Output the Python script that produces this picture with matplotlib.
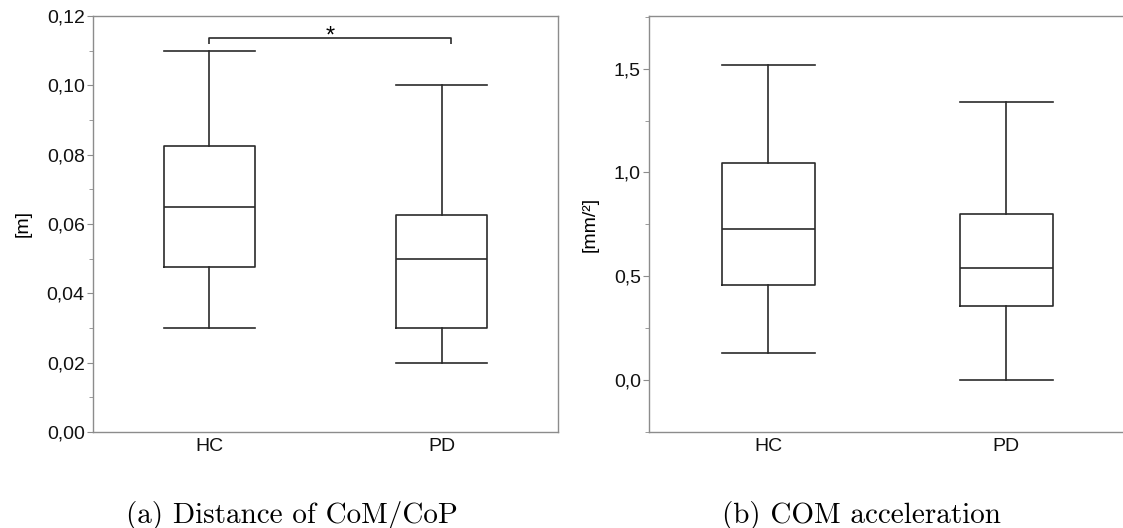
import matplotlib
matplotlib.use('Agg')
import matplotlib.pyplot as plt
from matplotlib.ticker import FixedLocator, FuncFormatter, MultipleLocator

groups = ['HC', 'PD']

# distance of CoM/CoP [m]
dist_low = [0.030, 0.020]
dist_q1 = [0.0475, 0.030]
dist_med = [0.065, 0.050]
dist_q3 = [0.0825, 0.0625]
dist_high = [0.110, 0.100]

# COM acceleration [mm/s^2]
acc_low = [0.13, 0.00]
acc_q1 = [0.46, 0.356]
acc_med = [0.73, 0.54]
acc_q3 = [1.048, 0.80]
acc_high = [1.52, 1.34]

captions = ['(a) Distance of CoM/CoP', '(b) COM acceleration']
ylabels = ['[m]', '[mm/\u00b2]']

LINE = '#2b2b2b'
SPINE = '#8c8c8c'


def box_stats(low, q1, med, q3, high):
    stats = []
    for i, name in enumerate(groups):
        stats.append({'label': name, 'whislo': low[i], 'q1': q1[i],
                      'med': med[i], 'q3': q3[i], 'whishi': high[i],
                      'fliers': []})
    return stats


def comma(decimals):
    return FuncFormatter(lambda v, pos: ('%.*f' % (decimals, v)).replace('.', ','))


def draw_boxes(ax, stats):
    line = dict(color=LINE, linewidth=1.2)
    ax.bxp(stats, positions=[1, 2], widths=0.39, showfliers=False,
           boxprops=line, whiskerprops=line, capprops=line,
           medianprops=line, capwidths=0.39)
    ax.set_xlim(0.5, 2.5)
    for side in ['left', 'right', 'top', 'bottom']:
        ax.spines[side].set_color(SPINE)
        ax.spines[side].set_linewidth(1.0)
    ax.tick_params(axis='y', which='both', direction='out', color=SPINE,
                   labelsize=14, pad=2, labelcolor='#111111')
    ax.tick_params(axis='y', which='major', length=4)
    ax.tick_params(axis='y', which='minor', length=3)
    ax.tick_params(axis='x', length=0, labelsize=14, pad=4,
                   labelcolor='#111111')


plt.rcParams['font.family'] = ['Liberation Sans', 'DejaVu Sans']
fig = plt.figure(figsize=(11.23, 5.28), dpi=100)

ax1 = fig.add_axes([0.0828, 0.1818, 0.414, 0.788])
draw_boxes(ax1, box_stats(dist_low, dist_q1, dist_med, dist_q3, dist_high))
ax1.set_ylim(0, 0.12)
ax1.yaxis.set_major_locator(MultipleLocator(0.02))
ax1.yaxis.set_minor_locator(FixedLocator([0.01, 0.03, 0.05, 0.07, 0.09, 0.11]))
ax1.yaxis.set_major_formatter(comma(2))
ax1.set_ylabel(ylabels[0], fontsize=14)
ax1.yaxis.set_label_coords(-0.133, 0.5)

# significance bracket between the two groups
br_y, br_tip = 0.1137, 0.1118
ax1.plot([1, 1, 2.04, 2.04], [br_tip, br_y, br_y, br_tip], color=LINE,
         linewidth=1.2, solid_capstyle='butt')
ax1.text(1.52, 0.1123, '*', ha='center', va='baseline', fontsize=17)

ax2 = fig.add_axes([0.578, 0.1818, 0.424, 0.788])
draw_boxes(ax2, box_stats(acc_low, acc_q1, acc_med, acc_q3, acc_high))
ax2.set_ylim(-0.25, 1.754)
ax2.yaxis.set_major_locator(FixedLocator([0.0, 0.5, 1.0, 1.5]))
ax2.yaxis.set_minor_locator(FixedLocator([-0.25, 0.25, 0.75, 1.25, 1.75]))
ax2.yaxis.set_major_formatter(comma(1))
ax2.set_ylabel(ylabels[1], fontsize=14)
ax2.yaxis.set_label_coords(-0.107, 0.5)

for ax, cap, cx in zip([ax1, ax2], captions, [0.427, 0.445]):
    ax.text(cx, -0.2, cap, transform=ax.transAxes,
            ha='center', va='center', fontsize=21, family='cmr10')

fig.savefig('out.png', dpi=100)
